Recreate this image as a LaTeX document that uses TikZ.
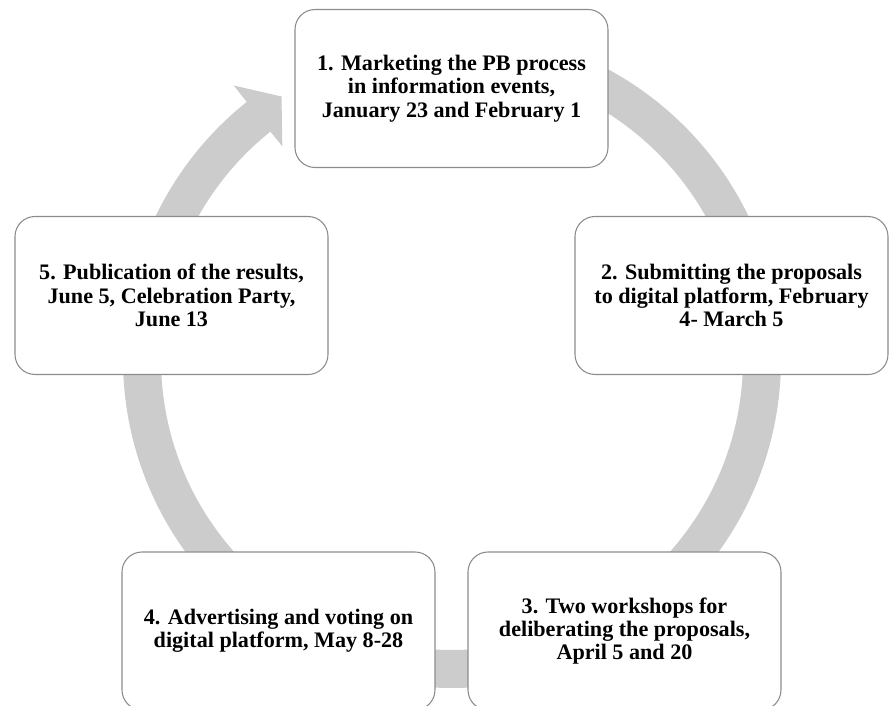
\documentclass[tikz,border=0pt]{standalone}
\usepackage{fontspec}
\setmainfont{Liberation Serif}

\begin{document}
\begin{tikzpicture}[x=0.75pt,y=0.75pt]
\tikzstyle{stage}=[draw=black!45, line width=0.8pt, fill=white, rounded corners=15pt, minimum width=234.75pt, minimum height=118.5pt, align=center, font=\bfseries\fontsize{16.6}{17.5}\selectfont]
\tikzstyle{band}=[black!20, line width=28.5pt]
\useasboundingbox (0,0) rectangle (889,706);
\clip (0,0) rectangle (889,706);
\coordinate (ctr) at (452,347);
\coordinate (ringtop) at ([shift={(ctr)}]90:310);
\coordinate (headout) at ([shift={(ctr)}]128.6:350);
\coordinate (headtip) at ([shift={(ctr)}]123:313);
\coordinate (headin) at ([shift={(ctr)}]128.6:272);
\draw[band] (ringtop) arc[start angle=90, end angle=-232, radius=232.5pt];
\fill[black!20] (headout) -- (headtip) -- (headin) -- cycle;
\node[stage] (marketing) at (451.5,617.5) {1. Marketing the PB process\\ in information events,\\ January 23 and February 1};
\node[stage] (submitting) at (731.5,410.5) {2. Submitting the proposals\\ to digital platform, February\\ 4- March 5};
\node[stage] (workshops) at (624.5,75) {3. Two workshops for\\ deliberating the proposals,\\ April 5 and 20};
\node[stage] (voting) at (278.5,75) {4. Advertising and voting on\\ digital platform, May 8-28};
\node[stage] (results) at (171.5,410.5) {5. Publication of the results,\\ June 5, Celebration Party,\\ June 13};
\end{tikzpicture}
\end{document}
